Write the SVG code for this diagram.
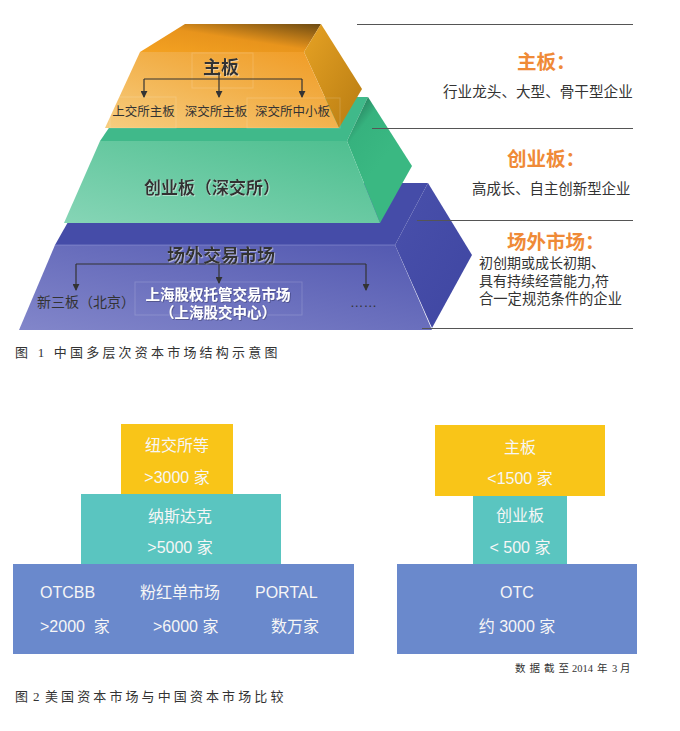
<svg xmlns="http://www.w3.org/2000/svg" width="680" height="731" viewBox="0 0 680 731">
<defs>
<linearGradient id="oTop" x1="0" y1="1" x2="1" y2="0"><stop offset="0" stop-color="#f4a222"/><stop offset="0.5" stop-color="#e8941c"/><stop offset="1" stop-color="#6c4a12"/></linearGradient>
<linearGradient id="oFront" x1="0" y1="1" x2="1" y2="0"><stop offset="0" stop-color="#f7cd80"/><stop offset="0.55" stop-color="#f2b04a"/><stop offset="1" stop-color="#f09a22"/></linearGradient>
<linearGradient id="oRight" x1="0" y1="0" x2="1" y2="1"><stop offset="0" stop-color="#e6a224"/><stop offset="1" stop-color="#b87c12"/></linearGradient>
<linearGradient id="gFront" x1="0" y1="1" x2="1" y2="0"><stop offset="0" stop-color="#86d5b6"/><stop offset="1" stop-color="#4cbe8e"/></linearGradient>
<linearGradient id="gRight" x1="0" y1="0" x2="0.4" y2="0.6"><stop offset="0" stop-color="#1c5e48"/><stop offset="0.45" stop-color="#36b27e"/><stop offset="1" stop-color="#3ab882"/></linearGradient>
<linearGradient id="bFront" x1="0" y1="1" x2="1" y2="0"><stop offset="0" stop-color="#8286ca"/><stop offset="1" stop-color="#5258b0"/></linearGradient>
<linearGradient id="bRight" x1="0" y1="0" x2="1" y2="1"><stop offset="0" stop-color="#4950ab"/><stop offset="1" stop-color="#3f46a2"/></linearGradient>
<filter id="sh" x="-10%" y="-30%" width="120%" height="160%"><feDropShadow dx="0.8" dy="0.8" stdDeviation="0.4" flood-color="#ffffff" flood-opacity="0.55"/></filter>
<filter id="shd" x="-10%" y="-30%" width="120%" height="160%"><feDropShadow dx="0.8" dy="0.8" stdDeviation="0.5" flood-color="#222244" flood-opacity="0.5"/></filter>
<marker id="ar" viewBox="0 0 8 8" refX="7" refY="4" markerWidth="7" markerHeight="7" markerUnits="userSpaceOnUse" orient="auto"><path d="M0,0 L8,4 L0,8 z" fill="#333"/></marker>
</defs>
<style>
.pt{font-family:"Noto Sans CJK SC","Liberation Sans",sans-serif;fill:#333;}
.pb{font-weight:bold;}
.hd{font-family:"Noto Sans CJK SC",sans-serif;font-weight:bold;fill:#ef8a37;font-size:19.5px;}
.ds{font-family:"Noto Sans CJK SC",sans-serif;fill:#333;}
.rule{stroke:#555;stroke-width:1;}
.conn{stroke:#333;stroke-width:1.2;fill:none;}
.bx{font-family:"Liberation Sans","Noto Sans CJK SC",sans-serif;fill:#f6f6f6;font-size:16px;white-space:pre;}
.cap{font-family:"Liberation Serif","Noto Sans CJK SC",serif;fill:#333;font-size:13px;white-space:pre;}
.faint{fill:none;stroke:#ffffff;stroke-opacity:0.16;stroke-width:1;}
</style>
<rect width="680" height="731" fill="#ffffff"/>

<g id="layer-otc">
<polygon points="55,245 395,245 428,183 90,183" fill="#454ca8"/>
<polygon points="395,245 428,183 472,255 432,328" fill="url(#bRight)"/>
<polygon points="55,245 395,245 432,330 19,330" fill="url(#bFront)"/>
<line x1="55" y1="245" x2="395" y2="245" stroke="#9ea2dc" stroke-opacity="0.5"/>
<rect x="135" y="282" width="167" height="33" class="faint" stroke-opacity="0.35"/>
<text class="pt pb" x="167" y="262" font-size="18" filter="url(#sh)">场外交易市场</text>
<text class="pt" x="37" y="307" font-size="14">新三板（北京）</text>
<text class="pt pb" x="218" y="300" font-size="14.5" text-anchor="middle" style="fill:#ffffff" filter="url(#shd)">上海股权托管交易市场</text>
<text class="pt pb" x="218" y="318" font-size="14.5" text-anchor="middle" style="fill:#ffffff" filter="url(#shd)">（上海股交中心）</text>
<text x="350" y="307" font-family="Liberation Sans, sans-serif" font-size="13.5" fill="#333">……</text>
</g>

<g id="layer-gem">
<polygon points="100,141 347,141 368,97 130,97" fill="#40b98a"/>
<polygon points="347,141 368,97 412,166 380,223" fill="url(#gRight)"/>
<polygon points="100,141 347,141 380,223 64,223" fill="url(#gFront)"/>
<text class="pt pb" x="144" y="194" font-size="17" filter="url(#sh)">创业板（深交所）</text>
</g>

<g id="layer-main">
<polygon points="140,52 185,24 321,24 304,52" fill="url(#oTop)"/>
<polygon points="304,52 321,24 362,89 339,128" fill="url(#oRight)"/>
<polygon points="140,52 304,52 339,128 105,128" fill="url(#oFront)"/>
<rect x="192" y="53" width="61" height="35" class="faint"/>
<rect x="110" y="97" width="66" height="31" class="faint"/>
<rect x="247" y="98" width="93" height="30" class="faint"/>
<text class="pt pb" x="221" y="74" font-size="18" text-anchor="middle" filter="url(#sh)">主板</text>
<text class="pt" x="143.5" y="116" font-size="12.5" text-anchor="middle">上交所主板</text>
<text class="pt" x="216" y="116" font-size="12.5" text-anchor="middle">深交所主板</text>
<text class="pt" x="292.5" y="116" font-size="12.5" text-anchor="middle">深交所中小板</text>
</g>

<g id="connectors">
<path class="conn" d="M144,79 H302"/>
<path class="conn" d="M144,79 V97" marker-end="url(#ar)"/>
<path class="conn" d="M219,72 V97" marker-end="url(#ar)"/>
<path class="conn" d="M302,79 V97" marker-end="url(#ar)"/>
<path class="conn" d="M76,264 H366"/>
<path class="conn" d="M76,264 V290" marker-end="url(#ar)"/>
<path class="conn" d="M219,264 V283" marker-end="url(#ar)"/>
<path class="conn" d="M366,264 V290" marker-end="url(#ar)"/>
</g>

<g id="desc-main">
<line class="rule" x1="357" y1="24.5" x2="633" y2="24.5"/>
<text class="hd" x="517" y="69">主板：</text>
<text class="ds" x="443" y="97" font-size="14.6">行业龙头、大型、骨干型企业</text>
</g>
<g id="desc-gem">
<line class="rule" x1="372" y1="128.5" x2="633" y2="128.5"/>
<text class="hd" x="507" y="166">创业板：</text>
<text class="ds" x="472" y="194" font-size="14.4">高成长、自主创新型企业</text>
</g>
<g id="desc-otc">
<line class="rule" x1="417" y1="220.5" x2="633" y2="220.5"/>
<text class="hd" x="507" y="249">场外市场：</text>
<text class="ds" x="479" y="268" font-size="14">初创期或成长初期、</text>
<text class="ds" x="479" y="286" font-size="14">具有持续经营能力,符</text>
<text class="ds" x="479" y="304" font-size="14.3">合一定规范条件的企业</text>
<line class="rule" x1="422" y1="328.5" x2="633" y2="328.5"/>
</g>

<text id="caption1" class="cap" x="15" y="357"><tspan letter-spacing="3.2">图 1 中国多层次资本市场结构示意图</tspan></text>

<g id="us-nyse">
<rect x="121" y="424" width="112" height="70" fill="#f9c518"/>
<text class="bx" x="177" y="451" text-anchor="middle">纽交所等</text>
<text class="bx" x="177" y="483" text-anchor="middle">&gt;3000 家</text>
</g>
<g id="us-nasdaq">
<rect x="81" y="494" width="200" height="70" fill="#5ac5c0"/>
<text class="bx" x="180" y="522" text-anchor="middle">纳斯达克</text>
<text class="bx" x="180" y="553" text-anchor="middle">&gt;5000 家</text>
</g>
<g id="us-otc">
<rect x="13" y="564" width="341" height="90" fill="#6a89cc"/>
<text class="bx" x="40" y="598">OTCBB</text>
<text class="bx" x="180" y="598" text-anchor="middle">粉红单市场</text>
<text class="bx" x="255" y="598">PORTAL</text>
<text class="bx" x="40" y="632">&gt;2000  家</text>
<text class="bx" x="153" y="632">&gt;6000 家</text>
<text class="bx" x="271" y="632">数万家</text>
</g>

<g id="cn-main">
<rect x="435" y="425" width="170" height="71" fill="#f9c518"/>
<text class="bx" x="520" y="453" text-anchor="middle">主板</text>
<text class="bx" x="520" y="484" text-anchor="middle">&lt;1500 家</text>
</g>
<g id="cn-gem">
<rect x="473" y="496" width="94" height="68" fill="#5ac5c0"/>
<text class="bx" x="520" y="521" text-anchor="middle">创业板</text>
<text class="bx" x="520" y="553" text-anchor="middle">&lt; 500 家</text>
</g>
<g id="cn-otc">
<rect x="397" y="564" width="240" height="90" fill="#6a89cc"/>
<text class="bx" x="517" y="598" text-anchor="middle">OTC</text>
<text class="bx" x="517" y="632" text-anchor="middle">约 3000 家</text>
</g>

<text id="note" class="cap" x="515" y="672" style="font-size:10.5px"><tspan letter-spacing="4">数据截至</tspan><tspan x="572">2014 </tspan><tspan x="597">年 </tspan><tspan x="612">3 </tspan><tspan x="620">月</tspan></text>

<text id="caption2" class="cap" x="15" y="701"><tspan>图 </tspan><tspan x="33">2 </tspan><tspan x="45" letter-spacing="3.1">美国资本市场与中国资本市场比较</tspan></text>
</svg>
